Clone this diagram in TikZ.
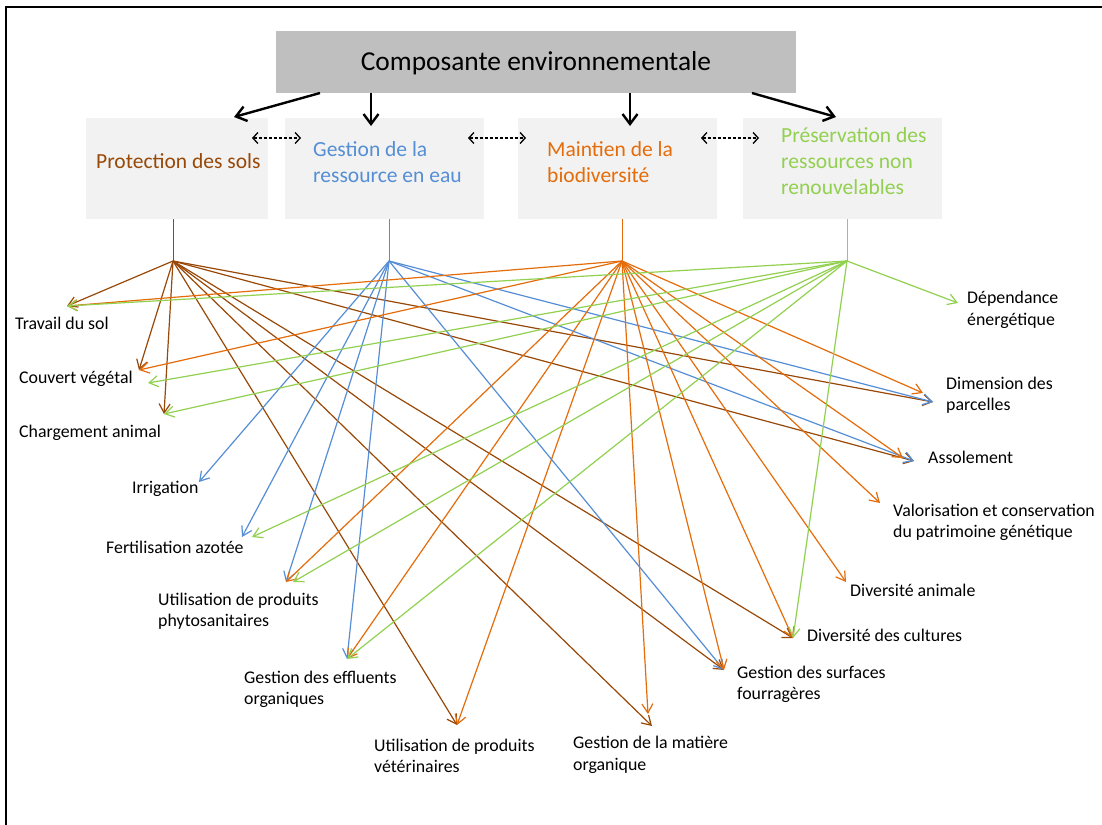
\documentclass[tikz,border=0pt]{standalone}
\usepackage{fontspec}
\setmainfont{Carlito}
\usetikzlibrary{arrows.meta}
\definecolor{cbrown}{HTML}{984807}
\definecolor{cblue}{HTML}{558ED5}
\definecolor{corange}{HTML}{E46C0A}
\definecolor{cgreen}{HTML}{92D050}
\definecolor{topgray}{HTML}{BFBFBF}
\definecolor{boxgray}{HTML}{F2F2F2}
\begin{document}
\begin{tikzpicture}[x=1bp,y=-1bp,
  leaf/.style={font=\fontsize{17.9}{21.5}\selectfont, align=left, anchor=west, inner sep=0pt, text=black},
  cat/.style={font=\fontsize{21.6}{26}\selectfont, align=left, anchor=west, inner sep=0pt},
  catbox/.style={fill=boxgray, inner sep=0pt, minimum width=#1, minimum height=101bp},
  link/.style={line width=1.2bp, -{Straight Barb[length=9bp,width=11bp]}},
  bigarrow/.style={line width=2.4bp, -{Straight Barb[length=10bp,width=15bp,line width=2.4bp]}},
  dasharrow/.style={line width=1.3bp, dash pattern=on 3bp off 2bp, {Straight Barb[length=5bp,width=11bp]}-{Straight Barb[length=5bp,width=11bp]}},
  stem/.style={line width=0.9bp},
]
\useasboundingbox (0,0) rectangle (1102,825);
\fill[white] (0,0) rectangle (1102,825);
% frame
\draw[line width=2.6bp] (6,830) -- (6,7) -- (1110,7);

% boxes
\node[fill=topgray, inner sep=0pt, minimum width=520bp, minimum height=62bp] (top) at (536,62) {};
\node[font=\fontsize{27.5}{32}\selectfont, inner sep=0pt] (toptext) at (536,63) {Composante environnementale};
\node[catbox=182bp] (box1) at (177,168.5) {};
\node[catbox=199bp] (box2) at (384.5,168.5) {};
\node[catbox=199bp] (box3) at (617.5,168.5) {};
\node[catbox=199bp] (box4) at (842.5,168.5) {};
\node[cat, text=cbrown] (protec) at (96,161) {Protection des sols};
\node[cat, text=cblue] (eau) at (313,162.5) {Gestion de la\\ressource en eau};
\node[cat, text=corange] (biodiv) at (547,162.5) {Maintien de la\\biodiversité};
\node[cat, text=cgreen] (preserv) at (781,161.5) {Préservation des\\ressources non\\renouvelables};

% top arrows
\coordinate (a1s) at (320,93); \coordinate (a1e) at (234,117);
\coordinate (a2s) at (371,93); \coordinate (a2e) at (371,126);
\coordinate (a3s) at (630,93); \coordinate (a3e) at (630,126);
\coordinate (a4s) at (752,93); \coordinate (a4e) at (836,117);
\draw[bigarrow] (a1s) -- (a1e);
\draw[bigarrow] (a2s) -- (a2e);
\draw[bigarrow] (a3s) -- (a3e);
\draw[bigarrow] (a4s) -- (a4e);

% dashed arrows
\coordinate (d1a) at (252,138); \coordinate (d1b) at (301,138);
\coordinate (d2a) at (468,138); \coordinate (d2b) at (526,138);
\coordinate (d3a) at (701,138); \coordinate (d3b) at (759,138);
\draw[dasharrow] (d1a) -- (d1b);
\draw[dasharrow] (d2a) -- (d2b);
\draw[dasharrow] (d3a) -- (d3b);

% hubs
\coordinate (hb) at (173,261);
\coordinate (hu) at (389,261);
\coordinate (ho) at (622,261);
\coordinate (hg) at (847,261);
\draw[stem, cbrown] (hb |- box1.south) -- (hb);
\draw[stem, cblue] (hu |- box2.south) -- (hu);
\draw[stem, corange] (ho |- box3.south) -- (ho);
\draw[stem, cgreen] (hg |- box4.south) -- (hg);

% leaf labels
\node[leaf] (travail) at (15,323) {Travail du sol};
\node[leaf] (couvert) at (19,379) {Couvert végétal};
\node[leaf] (charge) at (19,433) {Chargement animal};
\node[leaf] (irrig) at (132,489) {Irrigation};
\node[leaf] (fert) at (106,547) {Fertilisation azotée};
\node[leaf] (phyto) at (158,611.5) {Utilisation de produits\\phytosanitaires};
\node[leaf] (efflu) at (244,689.5) {Gestion des effluents\\organiques};
\node[leaf] (veto) at (374,756) {Utilisation de produits\\vétérinaires};
\node[leaf] (matiere) at (573,755) {Gestion de la matière\\organique};
\node[leaf] (fourr) at (737,684.5) {Gestion des surfaces\\fourragères};
\node[leaf] (divcult) at (807,635) {Diversité des cultures};
\node[leaf] (divani) at (850,590) {Diversité animale};
\node[leaf] (valor) at (893,522.5) {Valorisation et conservation\\du patrimoine génétique};
\node[leaf] (assol) at (928,457) {Assolement};
\node[leaf] (dimens) at (946,395) {Dimension des\\parcelles};
\node[leaf] (depend) at (967,310) {Dépendance\\énergétique};

% arrow tips
\coordinate (t-travail) at (67,306);
\coordinate (t-couvert) at (139,370);
\coordinate (t-couvert-g) at (148,383);
\coordinate (t-charge) at (164,414);
\coordinate (t-irrig) at (199,482);
\coordinate (t-fert) at (242,537);
\coordinate (t-fert-g) at (252,537);
\coordinate (t-phyto) at (286,582);
\coordinate (t-phyto-g) at (293,582);
\coordinate (t-efflu) at (347,659);
\coordinate (t-veto) at (457,725);
\coordinate (t-matiere-b) at (652,726);
\coordinate (t-matiere-o) at (648,714);
\coordinate (t-fourr) at (724,670);
\coordinate (t-divcult) at (793,638);
\coordinate (t-divani) at (846,582);
\coordinate (t-valor) at (880,503);
\coordinate (t-assol) at (914,461);
\coordinate (t-assol-o) at (903,458);
\coordinate (t-dimens) at (933,402);
\coordinate (t-dimens-o) at (923,393);
\coordinate (t-depend) at (958,303);

% brown: Protection des sols
\begin{scope}[cbrown]
\foreach \t in {travail,couvert,charge,veto,matiere-b,fourr,divcult,assol,dimens}
  \draw[link] (hb) -- (t-\t);
\end{scope}
% blue: ressource en eau
\begin{scope}[cblue]
\foreach \t in {irrig,fert,phyto,efflu,fourr,assol,dimens}
  \draw[link] (hu) -- (t-\t);
\end{scope}
% orange: biodiversite
\begin{scope}[corange]
\foreach \t in {travail,couvert,phyto,efflu,veto,matiere-o,fourr,divcult,divani,valor,assol-o,dimens-o}
  \draw[link] (ho) -- (t-\t);
\end{scope}
% green: ressources non renouvelables
\begin{scope}[cgreen]
\foreach \t in {travail,couvert-g,charge,fert-g,phyto-g,efflu,divcult,depend}
  \draw[link] (hg) -- (t-\t);
\end{scope}
\end{tikzpicture}
\end{document}
